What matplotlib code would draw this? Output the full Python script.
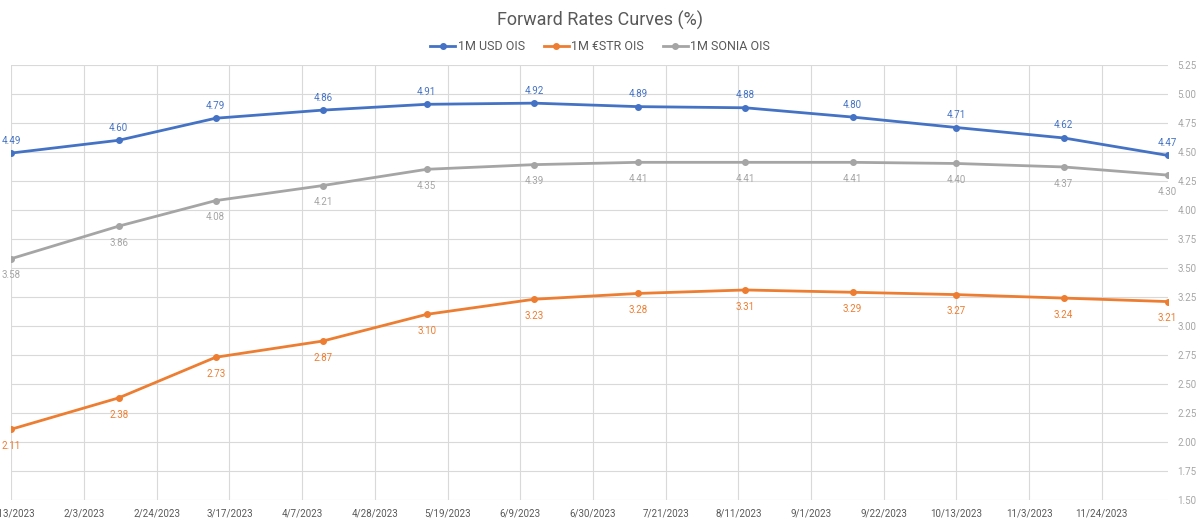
import matplotlib.pyplot as plt
import numpy as np
import pandas as pd

# Monthly forward points
dates = pd.to_datetime(["2023-01-13", "2023-02-13", "2023-03-13", "2023-04-13",
                        "2023-05-13", "2023-06-13", "2023-07-13", "2023-08-13",
                        "2023-09-13", "2023-10-13", "2023-11-13", "2023-12-13"])
usd_ois = [4.49, 4.60, 4.79, 4.86, 4.91, 4.92, 4.89, 4.88, 4.80, 4.71, 4.62, 4.47]
estr_ois = [2.11, 2.38, 2.73, 2.87, 3.10, 3.23, 3.28, 3.31, 3.29, 3.27, 3.24, 3.21]
sonia_ois = [3.58, 3.86, 4.08, 4.21, 4.35, 4.39, 4.41, 4.41, 4.41, 4.40, 4.37, 4.30]

tick_dates = pd.date_range("2023-01-13", "2023-11-24", freq="21D")
y_ticks = np.arange(1.5, 5.26, 0.25)

plt.rcParams['font.family'] = ['Roboto', 'DejaVu Sans']

fig = plt.figure(figsize=(12, 5.23), dpi=100)
ax = fig.add_axes([0.0095, 0.044, 0.9635, 0.832])

series = [
    ("1M USD OIS", usd_ois, "#4472C4", 9),
    ("1M €STR OIS", estr_ois, "#ED7D31", -12),
    ("1M SONIA OIS", sonia_ois, "#A5A5A5", -12),
]

for name, vals, col, off in series:
    ax.plot(dates, vals, color=col, lw=2, marker="o", ms=4, label=name, zorder=3)
    for d, v in zip(dates, vals):
        ax.annotate(f"{v:.2f}", (d, v), xytext=(0, off), textcoords="offset points",
                    ha="center", va="center", fontsize=7, color=col)

ax.set_xlim(dates[0], dates[-1])
ax.set_ylim(1.5, 5.25)
ax.set_xticks(tick_dates)
ax.set_xticklabels([f"{d.month}/{d.day}/{d.year}" for d in tick_dates])
ax.set_yticks(y_ticks)
ax.set_yticklabels([f"{v:.2f}" for v in y_ticks])
ax.yaxis.tick_right()

ax.grid(True, color="#D9D9D9", lw=0.8)
ax.set_axisbelow(True)
for s in ax.spines.values():
    s.set_visible(False)
ax.tick_params(axis="x", length=0, labelsize=7, colors="#595959", pad=6)
ax.tick_params(axis="y", length=0, labelsize=7, colors="#A6A6A6", pad=7)

fig.suptitle("Forward Rates Curves (%)", y=0.98, fontsize=13, color="#595959")
fig.legend(loc="upper center", bbox_to_anchor=(0.5, 0.945), ncol=3, frameon=False,
           fontsize=9, handlelength=2, columnspacing=1.5, handletextpad=0.2,
           labelcolor="#595959")

fig.savefig("out.png", dpi=100)
